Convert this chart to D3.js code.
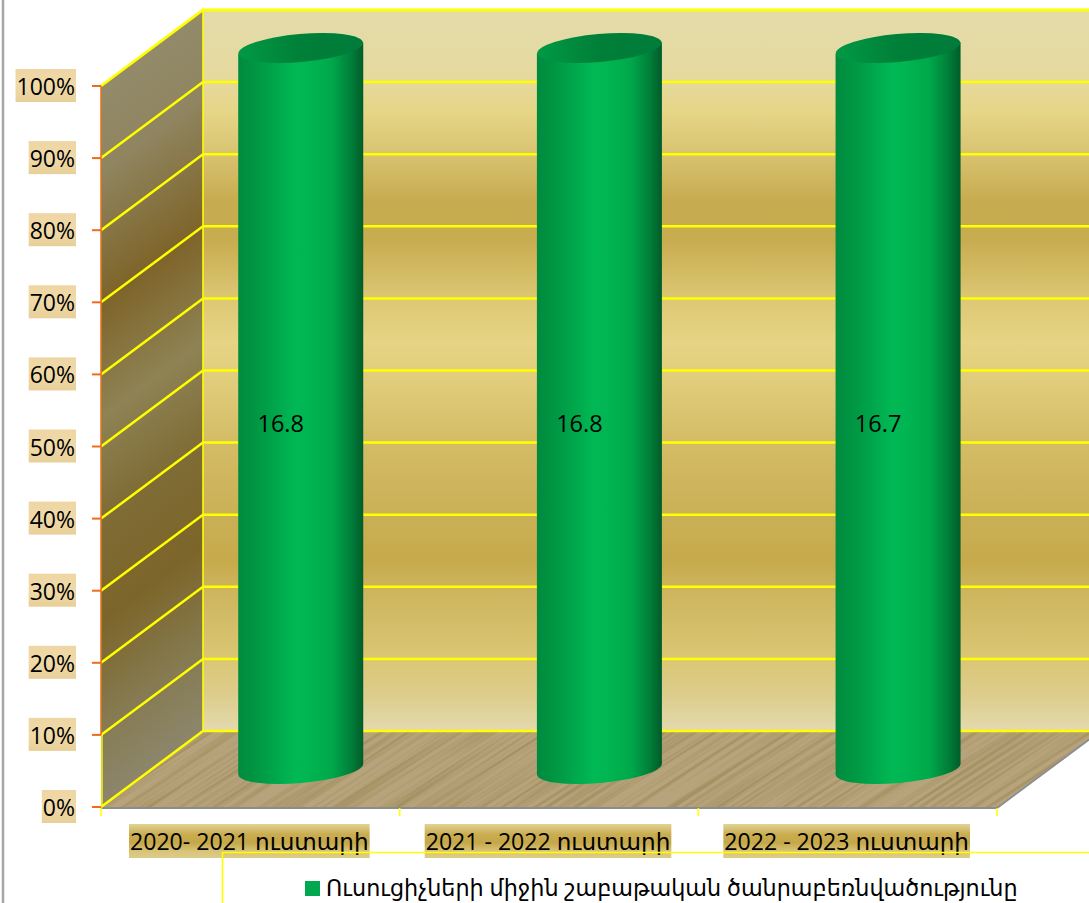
<!DOCTYPE html>
<html><head><meta charset="utf-8">
<script src="https://cdn.jsdelivr.net/npm/d3@7"></script>
<style>html,body{margin:0;padding:0;background:#fff;overflow:hidden}svg{display:block}
text{font-family:"Open Sans","DejaVu Sans",sans-serif;fill:#000}</style></head><body>
<script>
const categories = ["2020- 2021 ուստարի","2021 - 2022 ուստարի","2022 - 2023 ուստարի"];
const seriesName = "Ուսուցիչների միջին շաբաթական ծանրաբեռնվածությունը";
const seriesValues = [16.8,16.8,16.7];
const tickValues = [0,10,20,30,40,50,60,70,80,90,100];
const W=1089,H=903;
const svg=d3.select("body").append("svg").attr("width",W).attr("height",H);
const defs=svg.append("defs");
function grad(id,stops,x1,y1,x2,y2,user){const g=defs.append("linearGradient").attr("id",id).attr("x1",x1).attr("y1",y1).attr("x2",x2).attr("y2",y2);
 if(user)g.attr("gradientUnits","userSpaceOnUse");
 stops.forEach(s=>g.append("stop").attr("offset",s[0]).attr("stop-color",s[1]));}
grad("wall",[[0,"#e4dbab"],[.1,"#e5d99c"],[.14,"#e6d688"],[.2,"#d8c370"],[.265,"#c7ab50"],[.32,"#c8ac50"],[.4,"#dcc774"],[.46,"#e6d484"],[.5,"#e2cf7e"],[.6,"#d4bc66"],[.7,"#cab056"],[.765,"#c6aa4c"],[.8,"#cdb45c"],[.9,"#dac674"],[.95,"#ddcd8c"],[1,"#e3daad"]],0,0,0,1);
grad("side",[[0,"#938a6a"],[.12,"#8f8560"],[.3,"#7e6429"],[.46,"#8e8354"],[.6,"#7f6c36"],[.74,"#7c6529"],[.88,"#857a50"],[1,"#8d866c"]],101,86,447,550,true);
grad("cyl",[[0,"#008a3e"],[.2,"#009c45"],[.45,"#00b854"],[.55,"#00b653"],[.75,"#00a84a"],[.9,"#007f39"],[1,"#005c2a"]],0,0,1,0);
grad("cylTop",[[0,"#009a45"],[.5,"#007f38"],[1,"#007c3a"]],0,0,1,0);
grad("catBg",[[0,"#e2d496"],[.3,"#c9ad50"],[.55,"#c5a748"],[.8,"#d8c47a"],[1,"#dccb88"]],0,0,0,1);
grad("tickBg",[[0,"#edd6a4"],[.5,"#f0daa8"],[1,"#e8cf98"]],0,0,0,1);
const f=defs.append("filter").attr("id","wood").attr("x",0).attr("y",0).attr("width",1).attr("height",1);
f.append("feTurbulence").attr("type","fractalNoise").attr("baseFrequency","0.004 0.28").attr("numOctaves",3).attr("seed",5);
f.append("feColorMatrix").attr("values","0 0 0 0 .36  0 0 0 0 .28  0 0 0 0 .12  2.6 0 0 0 -1.0");
defs.append("clipPath").attr("id","floorClip").append("path");

const yS=d3.scaleLinear().domain([0,100]).range([807,86]);
const xS=d3.scaleBand().domain(categories).range([101,997]);
const dx=102,dy=-76;
const x0=xS.range()[0],x1=xS.range()[1],yb=yS(0),yt=yS(100);
const path=pts=>d3.line()(pts);
// gray page edge
svg.append("line").attr("x1",3).attr("x2",3).attr("y1",0).attr("y2",H).attr("stroke","#a6a6a6").attr("stroke-width",2.5);
// back wall & side wall
const floorPts=[[x0,yb],[x0+dx,yb+dy],[x1+dx,yb+dy],[x1,yb]];
svg.append("rect").attr("x",x0+dx).attr("y",yt+dy).attr("width",W).attr("height",yb-yt).attr("fill","url(#wall)");
svg.append("path").attr("d",path([[x0,yb],[x0+dx,yb+dy],[x0+dx,yt+dy],[x0,yt]])+"Z").attr("fill","url(#side)");
// floor
defs.select("#floorClip path").attr("d",path(floorPts)+"Z");
svg.append("path").attr("d",path(floorPts)+"Z").attr("fill","#b8a47c");
svg.append("g").attr("clip-path","url(#floorClip)").append("rect").attr("x",-300).attr("y",500).attr("width",1900).attr("height",700)
 .attr("transform","rotate(-33 600 770)").attr("filter","url(#wood)");
svg.append("path").attr("d",path([[x0,yb+1],[x1,yb+1],[x1+dx,yb+dy+1]])).attr("fill","none").attr("stroke","#8c8c8c").attr("stroke-width",2);
// grid
const grid=svg.append("g").attr("stroke","#ffff00").attr("fill","none");
tickValues.forEach(t=>{const y=yS(t);
 grid.append("path").attr("d",path([[x0,y],[x0+dx,y+dy],[W,y+dy]])).attr("stroke-width",t===100?2.8:2.5);});
grid.append("line").attr("x1",x0+dx).attr("x2",x0+dx).attr("y1",yt+dy).attr("y2",yb+dy).attr("stroke-width",1.6);
grid.append("line").attr("x1",x0+1).attr("x2",x0+1).attr("y1",yS(10)).attr("y2",yb).attr("stroke-width",1.4);
// y axis
svg.append("line").attr("x1",x0).attr("x2",x0).attr("y1",yt).attr("y2",yb-72).attr("stroke","#e8701a").attr("stroke-width",1.5);
const tg=svg.append("g").selectAll("g").data(tickValues).join("g").attr("transform",d=>`translate(0,${yS(d)})`);
tg.append("line").attr("x1",92).attr("x2",x0).attr("stroke","#ee6c1c").attr("stroke-width",2);
const tl=tg.append("text").attr("x",75).attr("y",1).attr("dy","0.35em").attr("text-anchor","end").attr("font-size",23).text(d=>d+"%");
tl.each(function(){const b=this.getBBox();d3.select(this.parentNode).insert("rect","text").attr("x",b.x-1).attr("y",-17).attr("width",b.width+2).attr("height",33).attr("fill","url(#tickBg)");});
// category ticks
svg.append("g").selectAll("line").data([...categories.map(c=>xS(c)),x1]).join("line").attr("x1",d=>d).attr("x2",d=>d).attr("y1",yb+1).attr("y2",yb+9).attr("stroke","#ffff00").attr("stroke-width",1.6);
// cat labels
const cg=svg.append("g").selectAll("g").data(categories).join("g");
const ct=cg.append("text").attr("x",d=>xS(d)+xS.bandwidth()/2-1).attr("y",842).attr("dy","0.35em").attr("text-anchor","middle").attr("font-size",23.1).text(d=>d);
ct.each(function(){const b=this.getBBox();d3.select(this.parentNode).insert("rect","text").attr("x",b.x-1).attr("y",824).attr("width",b.width+2).attr("height",34).attr("fill","url(#catBg)");});
// legend frame
svg.append("path").attr("d",path([[222.5,H],[222.5,852.5],[W,852.5]])).attr("fill","none").attr("stroke","#ffff00").attr("stroke-width",1.6);
svg.append("rect").attr("x",305).attr("y",881).attr("width",15).attr("height",15).attr("fill","#00a84f");
svg.append("text").attr("x",326).attr("y",888.5).attr("dy","0.35em").attr("font-size",22.3).text(seriesName);
// cylinders
const rx=62.5,ry=14,tilt=-5;
const total=seriesValues.map(v=>v); // single-series 100% stacked column
const bars=svg.append("g").selectAll("g").data(seriesValues.map((v,i)=>({v,c:categories[i],share:100*v/total[i]}))).join("g")
 .attr("transform",d=>`translate(${xS(d.c)+xS.bandwidth()/2+dx/2-0.6},0)`);
const cylPath=d=>{const top=yS(d.share)+dy/2,bot=yS(0)+dy/2,a=tilt*Math.PI/180,lift=rx*Math.sin(a);
 return `M${-rx},${top-lift}L${-rx},${bot-lift}A${rx},${ry} ${tilt} 0 0 ${rx},${bot+lift}L${rx},${top+lift}Z`;};
bars.append("path").attr("d",cylPath).attr("fill","url(#cyl)");
bars.append("ellipse").attr("rx",rx).attr("ry",ry).attr("cy",d=>yS(d.share)+dy/2).attr("fill","url(#cylTop)")
 .attr("transform",d=>`rotate(${tilt} 0 ${yS(d.share)+dy/2})`);
bars.append("text").attr("x",-20).attr("y",424).attr("dy","0.35em").attr("text-anchor","middle").attr("font-size",23.5).text(d=>d.v.toFixed(1));
</script></body></html>
